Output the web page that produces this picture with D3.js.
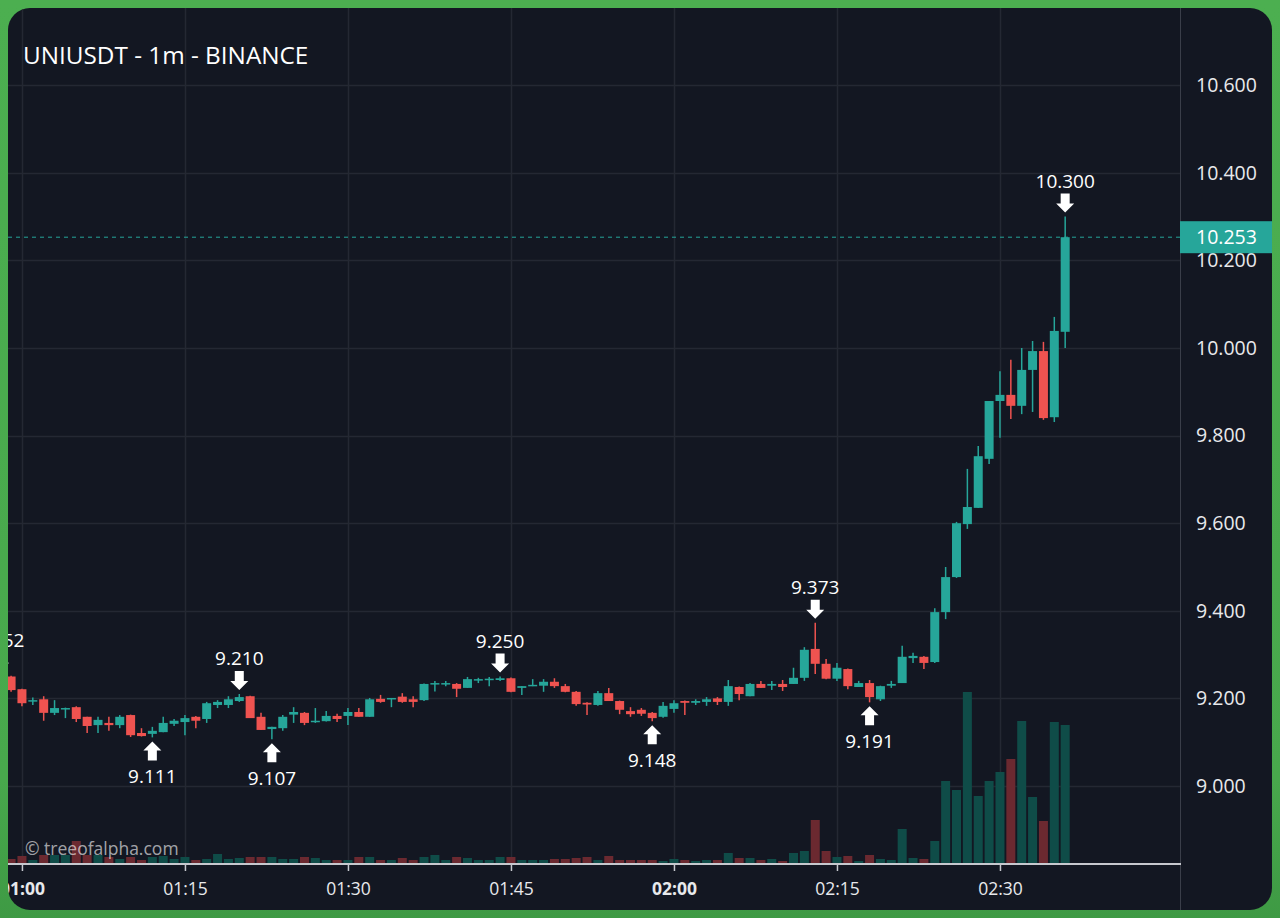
<!DOCTYPE html>
<html><head><meta charset="utf-8">
<script src="https://cdn.jsdelivr.net/npm/d3@7"></script>
<style>html,body{margin:0;padding:0;background:#4caf50;} svg{display:block}</style>
</head><body><svg id="c" width="1280" height="918"></svg>
<script>
// ---------------- DATA (UNIUSDT 1m, Binance) ----------------
const title = "UNIUSDT - 1m - BINANCE";
const watermark = "\u00a9 treeofalpha.com";
const firstCandle = new Date(2021, 0, 1, 0, 58); // candle times step by one minute
const opens  = [9.240,9.250,9.221,9.193,9.198,9.167,9.177,9.180,9.158,9.139,9.144,9.139,9.162,9.121,9.119,9.123,9.142,9.146,9.158,9.153,9.185,9.185,9.194,9.205,9.158,9.130,9.132,9.163,9.167,9.146,9.148,9.160,9.160,9.169,9.158,9.199,9.198,9.204,9.198,9.196,9.232,9.233,9.233,9.224,9.242,9.242,9.242,9.246,9.224,9.228,9.229,9.238,9.228,9.215,9.190,9.185,9.212,9.194,9.171,9.174,9.167,9.158,9.176,9.194,9.190,9.192,9.200,9.192,9.226,9.205,9.233,9.229,9.233,9.233,9.247,9.313,9.279,9.245,9.267,9.226,9.235,9.198,9.229,9.235,9.292,9.295,9.283,9.397,9.477,9.598,9.635,9.747,9.879,9.893,9.868,9.950,9.993,9.842,10.037];
const highs  = [9.252,9.252,9.222,9.202,9.205,9.196,9.179,9.182,9.158,9.158,9.158,9.162,9.163,9.132,9.135,9.158,9.153,9.162,9.160,9.192,9.196,9.205,9.210,9.206,9.167,9.135,9.162,9.180,9.169,9.178,9.171,9.165,9.178,9.178,9.201,9.208,9.201,9.212,9.205,9.234,9.240,9.240,9.235,9.249,9.247,9.249,9.250,9.248,9.228,9.244,9.244,9.246,9.233,9.217,9.191,9.217,9.224,9.195,9.180,9.178,9.169,9.192,9.196,9.195,9.198,9.203,9.203,9.242,9.227,9.235,9.240,9.240,9.242,9.270,9.317,9.373,9.290,9.281,9.268,9.240,9.242,9.229,9.240,9.320,9.304,9.297,9.406,9.500,9.603,9.724,9.776,9.879,9.947,9.973,10.000,10.016,10.014,10.071,10.300];
const lows   = [9.236,9.215,9.182,9.185,9.149,9.162,9.155,9.146,9.121,9.121,9.126,9.132,9.112,9.113,9.111,9.123,9.137,9.116,9.132,9.144,9.178,9.178,9.192,9.155,9.128,9.107,9.126,9.144,9.139,9.144,9.147,9.146,9.139,9.158,9.158,9.190,9.180,9.190,9.180,9.194,9.216,9.228,9.203,9.224,9.235,9.228,9.240,9.214,9.208,9.228,9.215,9.224,9.214,9.183,9.162,9.183,9.194,9.164,9.158,9.160,9.148,9.156,9.167,9.162,9.185,9.183,9.185,9.183,9.196,9.205,9.224,9.219,9.217,9.233,9.240,9.256,9.244,9.240,9.221,9.226,9.191,9.194,9.224,9.235,9.281,9.267,9.281,9.381,9.475,9.587,9.635,9.735,9.795,9.838,9.849,9.854,9.836,9.831,10.000];
const closes = [9.248,9.219,9.189,9.196,9.167,9.178,9.178,9.153,9.137,9.151,9.139,9.158,9.116,9.114,9.126,9.144,9.149,9.155,9.149,9.189,9.192,9.198,9.203,9.155,9.128,9.135,9.158,9.169,9.144,9.149,9.160,9.153,9.169,9.158,9.198,9.192,9.201,9.192,9.192,9.233,9.235,9.235,9.222,9.244,9.244,9.245,9.246,9.215,9.228,9.231,9.238,9.228,9.215,9.187,9.186,9.212,9.194,9.174,9.164,9.165,9.155,9.183,9.189,9.190,9.194,9.198,9.192,9.228,9.210,9.233,9.224,9.233,9.226,9.247,9.311,9.279,9.245,9.270,9.228,9.235,9.203,9.228,9.233,9.295,9.297,9.281,9.397,9.477,9.600,9.637,9.753,9.879,9.893,9.868,9.950,9.993,9.840,10.039,10.253];
const volumes = [5,4,7,3,8,8,8,22,8,8,6,4,6,3,6,7,4,6,3,4,9,4,5,6,6,6,4,4,6,5,3,3,3,6,6,3,3,5,3,6,8,3,6,5,3,3,6,6,3,3,3,4,4,5,6,3,7,3,3,3,3,2,4,3,2,3,3,10,5,5,3,4,2,10,12,43,12,6,7,2,8,4,3,34,5,4,22,82,73,171,67,82,91,104,142,66,42,141,138]; // thousand UNI
const lastPrice = 10.253;
const priceTicks = [9.0, 9.2, 9.4, 9.6, 9.8, 10.0, 10.2, 10.4, 10.6];
const pivotIndex = [0, 14, 22, 25, 46, 60, 75, 80, 98];
const pivotType  = ["high","low","high","low","high","low","high","low","high"];

// ---------------- LAYOUT ----------------
const W = 1280, H = 918;
const P = {x: 8, y: 8, w: 1264, h: 902, r: 22};
const plotRight = 1180, axisY = 864;
const up = "#26a69a", down = "#ef5350";
const upVol = "#0f4c48", downVol = "#6b2930";
const grid = "#242833";
const axisCol = "#c6c8ce";
const fontF = "'Open Sans', 'Noto Sans', sans-serif";

const times = opens.map((_, i) => d3.timeMinute.offset(firstCandle, i));
const candles = times.map((t, i) => ({t, o: opens[i], h: highs[i], l: lows[i], c: closes[i], v: volumes[i]}));

const svg = d3.select("#c");
const defs = svg.append("defs");
const lg = defs.append("linearGradient").attr("id","bg").attr("x1",0).attr("y1",0).attr("x2",0).attr("y2",1);
lg.append("stop").attr("offset","0%").attr("stop-color","#4caf50");
lg.append("stop").attr("offset","85%").attr("stop-color","#48a84c");
lg.append("stop").attr("offset","100%").attr("stop-color","#3e9a44");
svg.append("rect").attr("width",W).attr("height",H).attr("fill","url(#bg)");

defs.append("clipPath").attr("id","panel").append("rect")
  .attr("x",P.x).attr("y",P.y).attr("width",P.w).attr("height",P.h).attr("rx",P.r);
defs.append("clipPath").attr("id","plot").append("rect")
  .attr("x",P.x).attr("y",P.y).attr("width",plotRight-P.x).attr("height",axisY-P.y);

svg.append("rect").attr("x",P.x).attr("y",P.y).attr("width",P.w).attr("height",P.h).attr("rx",P.r).attr("fill","#131722");

const root = svg.append("g").attr("clip-path","url(#panel)");

const x = d3.scaleTime()
  .domain([new Date(2021,0,1,0,58,43), new Date(2021,0,1,2,46,34)])
  .range([P.x, plotRight]);
const y = d3.scaleLinear().domain([8.8242, 10.7763]).range([axisY - 1, P.y]);
const vy = d3.scaleLinear().domain([0, 200]).range([axisY - 1, axisY - 201]);

const timeTicks = d3.timeMinute.every(15).range(new Date(2021,0,1,1,0), new Date(2021,0,1,2,45));

// grid
const gg = root.append("g");
gg.selectAll("line.h").data(priceTicks).join("line")
  .attr("x1",P.x).attr("x2",plotRight).attr("y1",d=>Math.round(y(d))+0.5).attr("y2",d=>Math.round(y(d))+0.5)
  .attr("stroke",grid).attr("stroke-width",1.5);
gg.selectAll("line.v").data(timeTicks).join("line")
  .attr("x1",d=>Math.round(x(d))+0.5).attr("x2",d=>Math.round(x(d))+0.5).attr("y1",P.y).attr("y2",axisY)
  .attr("stroke",grid).attr("stroke-width",1.5);

const plot = root.append("g").attr("clip-path","url(#plot)");
const bw = 9;
// volume
plot.append("g").selectAll("rect").data(candles).join("rect")
  .attr("x",d=>x(d.t)-bw/2).attr("width",bw)
  .attr("y",d=>vy(d.v)).attr("height",d=>vy(0)-vy(d.v))
  .attr("fill",d=>d.c>=d.o?upVol:downVol);

// watermark
plot.append("text").attr("x",25).attr("y",855).text(watermark)
  .attr("font-family",fontF).attr("font-size",17.5).attr("fill","#ffffff").attr("fill-opacity",0.62);

// candles
const cg = plot.append("g").selectAll("g").data(candles).join("g");
cg.append("line")
  .attr("x1",d=>x(d.t)).attr("x2",d=>x(d.t)).attr("y1",d=>y(d.h)).attr("y2",d=>y(d.l))
  .attr("stroke",d=>d.c>=d.o?up:down).attr("stroke-width",1.5);
cg.append("rect")
  .attr("x",d=>x(d.t)-bw/2).attr("width",bw)
  .attr("y",d=>y(Math.max(d.o,d.c)))
  .attr("height",d=>Math.max(1.5, Math.abs(y(d.o)-y(d.c))))
  .attr("fill",d=>d.c>=d.o?up:down);

// last price line
root.append("line").attr("x1",P.x).attr("x2",plotRight)
  .attr("y1",y(lastPrice)).attr("y2",y(lastPrice))
  .attr("stroke",up).attr("stroke-width",1).attr("stroke-dasharray","4,4");

// pivots
const downArrow = "M-4.5,-19 L4.5,-19 L4.5,-9 L9,-9 L0,0 L-9,-9 L-4.5,-9 Z";
const upArrow   = "M-4.5,19 L4.5,19 L4.5,9 L9,9 L0,0 L-9,9 L-4.5,9 Z";
const pg = root.append("g");
pivotIndex.forEach((idx, k) => {
  const d = candles[idx];
  const px = x(d.t);
  if (pivotType[k] === "high") {
    const py = y(d.h);
    pg.append("path").attr("d",downArrow).attr("transform",`translate(${px},${py-4})`).attr("fill","#ffffff");
    pg.append("text").attr("x",px).attr("y",py-29).attr("text-anchor","middle").text(d.h.toFixed(3))
      .attr("font-family",fontF).attr("font-size",19).attr("fill","#ffffff");
  } else {
    const py = y(d.l);
    pg.append("path").attr("d",upArrow).attr("transform",`translate(${px},${py+4})`).attr("fill","#ffffff");
    pg.append("text").attr("x",px).attr("y",py+46).attr("text-anchor","middle").text(d.l.toFixed(3))
      .attr("font-family",fontF).attr("font-size",19).attr("fill","#ffffff");
  }
});

// title
root.append("text").attr("x",23).attr("y",64).text(title)
  .attr("font-family",fontF).attr("font-size",24.3).attr("fill","#ffffff");

// price axis
const ya = root.append("g").attr("transform",`translate(${plotRight},0)`)
  .call(d3.axisRight(y).tickValues(priceTicks).tickFormat(d3.format(".3f")).tickSize(0).tickPadding(16));
ya.select(".domain").remove();
ya.selectAll("text").attr("font-family",fontF).attr("font-size",19.5).attr("fill","#e8e9ec");
root.append("line").attr("x1",plotRight+0.5).attr("x2",plotRight+0.5).attr("y1",P.y).attr("y2",P.y+P.h)
  .attr("stroke","#3a3e49").attr("stroke-width",1);

// last price label
const lp = root.append("g").attr("transform",`translate(${plotRight},${y(lastPrice)})`);
lp.append("rect").attr("x",0).attr("y",-16).attr("width",P.x+P.w-plotRight).attr("height",32).attr("fill",up);
lp.append("text").attr("x",16).attr("dy","0.35em").text(lastPrice.toFixed(3))
  .attr("font-family",fontF).attr("font-size",19.5).attr("fill","#ffffff");

// time axis
root.append("line").attr("x1",P.x).attr("x2",plotRight+1).attr("y1",axisY).attr("y2",axisY)
  .attr("stroke",axisCol).attr("stroke-width",2);
const xa = root.append("g").attr("transform",`translate(0,${axisY})`)
  .call(d3.axisBottom(x).tickValues(timeTicks).tickFormat(d3.timeFormat("%H:%M")).tickSize(7).tickPadding(12));
xa.select(".domain").remove();
xa.selectAll("line").attr("stroke",axisCol).attr("stroke-width",1.5);
xa.selectAll("text").attr("font-family",fontF).attr("font-size",17.5).attr("fill","#e8e9ec")
  .attr("font-weight",d=>d.getMinutes()===0?"700":"400");
</script></body></html>
